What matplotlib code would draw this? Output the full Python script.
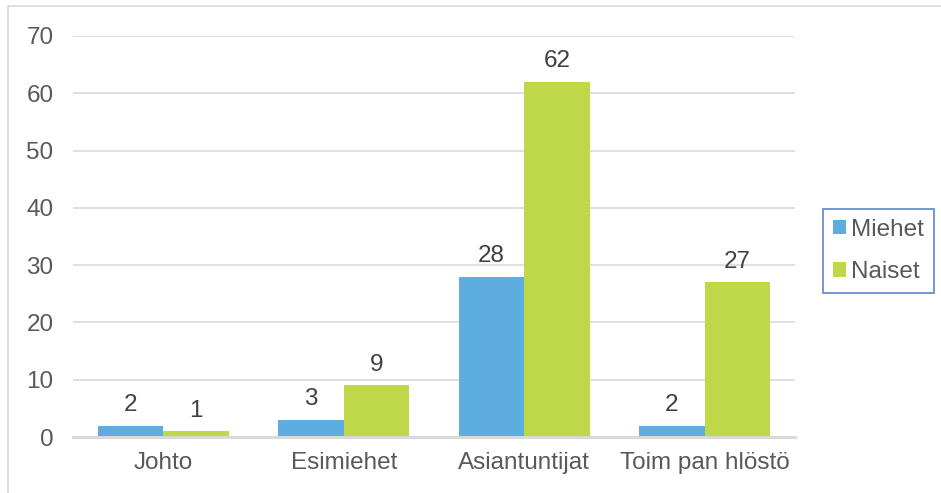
import numpy as np
import matplotlib.pyplot as plt
from matplotlib.patches import Rectangle

categories = ['Johto', 'Esimiehet', 'Asiantuntijat', 'Toim pan hlöstö']
miehet = [2, 3, 28, 2]
naiset = [1, 9, 62, 27]
series_names = ['Miehet', 'Naiset']
y_ticks = [0, 10, 20, 30, 40, 50, 60, 70]

BLUE = '#5DADE0'
GREEN = '#BFD84A'
GRID = '#D9D9D9'
TEXT = '#595959'
LABEL = '#404040'
FS = 17.5

plt.rcParams['font.family'] = ['Liberation Sans', 'DejaVu Sans']

fig = plt.figure(figsize=(9.41, 4.93), dpi=100)
ax = fig.add_axes([73 / 941, 56 / 493, 722 / 941, 401 / 493])

# chart area frame
fig.patches.append(Rectangle((8 / 941, -0.1), 1.2, (487 / 493) + 0.1,
                             transform=fig.transFigure, fill=False,
                             edgecolor=GRID, linewidth=1.2))

x = np.arange(len(categories))
w = 0.363
b1 = ax.bar(x - w / 2, miehet, w, color=BLUE, label=series_names[0], zorder=3)
b2 = ax.bar(x + w / 2, naiset, w, color=GREEN, label=series_names[1], zorder=3)

for bars, vals in ((b1, miehet), (b2, naiset)):
    for rect, v in zip(bars, vals):
        ax.annotate(str(v), (rect.get_x() + rect.get_width() / 2, v),
                    xytext=(0, 7), textcoords='offset points',
                    ha='center', va='bottom', fontsize=FS, color=LABEL)

ax.set_xlim(-0.5, len(categories) - 0.5)
ax.set_ylim(0, 70)
ax.set_yticks(y_ticks)
ax.set_xticks(x)
ax.set_xticklabels(categories)
ax.tick_params(axis='both', length=0, labelsize=FS, labelcolor=TEXT)
ax.tick_params(axis='y', pad=14)
ax.tick_params(axis='x', pad=11)
ax.yaxis.grid(True, color=GRID, linewidth=1.2, zorder=0)
for s in ('top', 'right', 'left'):
    ax.spines[s].set_visible(False)
ax.spines['bottom'].set_color(GRID)
ax.spines['bottom'].set_linewidth(2.2)
ax.spines['bottom'].set_zorder(4)

leg = ax.legend(loc='center left', bbox_to_anchor=(823 / 941, 242 / 493),
                bbox_transform=fig.transFigure, fontsize=FS, frameon=True,
                fancybox=False, handlelength=0.55, handleheight=0.55,
                handletextpad=0.2, labelspacing=0.85, borderpad=0.4,
                borderaxespad=0, labelcolor=TEXT)
leg.get_frame().set_edgecolor('#4472C4')
leg.get_frame().set_linewidth(1.3)

fig.savefig('out.png', dpi=100)
